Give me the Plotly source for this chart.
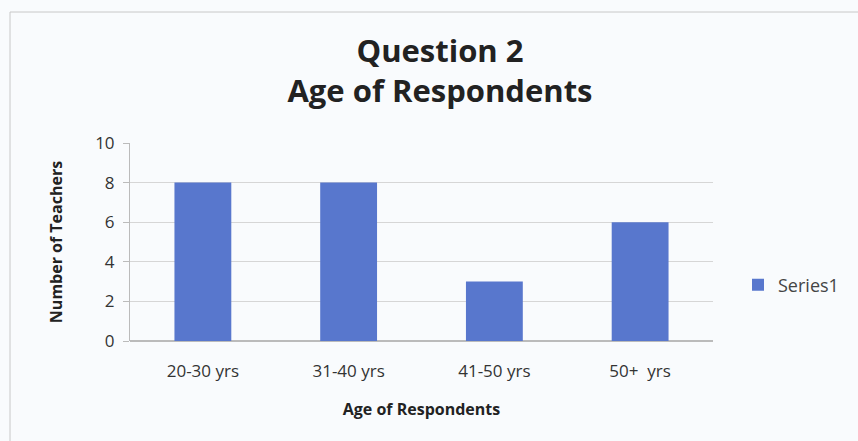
import plotly.graph_objects as go

# Survey results: number of teachers in each age band
categories = ["20-30 yrs", "31-40 yrs", "41-50 yrs", "50+  yrs"]
teachers = [8, 8, 3, 6]
y_ticks = [0, 2, 4, 6, 8, 10]

W, H = 858, 441
M_L, M_R, M_T, M_B = 130, 145, 143, 100
plot_w = W - M_L - M_R
plot_h = H - M_T - M_B


def px_x(x):
    return (x - M_L) / plot_w


def px_y(y):
    return (H - M_B - y) / plot_h


fig = go.Figure(
    go.Bar(
        x=categories,
        y=teachers,
        name="Series1",
        marker=dict(color="#5877CD", line=dict(width=0)),
        width=0.39,
        showlegend=True,
    )
)

font_main = "'Open Sans', sans-serif"

fig.update_layout(
    width=W,
    height=H,
    margin=dict(l=M_L, r=M_R, t=M_T, b=M_B),
    paper_bgcolor="#F9FBFD",
    plot_bgcolor="#F9FBFD",
    font=dict(family=font_main, color="#333333"),
    title=dict(
        text="<b>Question 2<br>Age of Respondents</b>",
        x=440 / W,
        xanchor="center",
        y=0.86,
        yanchor="top",
        font=dict(size=31, color="#222222", family=font_main),
    ),
    legend=dict(
        x=px_x(738),
        xanchor="left",
        y=px_y(285),
        yanchor="middle",
        font=dict(size=18, color="#444444"),
        bgcolor="rgba(0,0,0,0)",
        itemwidth=30,
    ),
    bargap=0.61,
    shapes=[
        dict(
            type="rect",
            xref="paper",
            yref="paper",
            x0=px_x(10),
            x1=px_x(870),
            y0=px_y(460),
            y1=px_y(12),
            line=dict(color="#C8C8C8", width=1),
            fillcolor="rgba(0,0,0,0)",
            layer="below",
        )
    ],
)

fig.update_xaxes(
    showgrid=False,
    showline=False,
    ticks="",
    ticklabelstandoff=18,
    tickfont=dict(size=17, color="#333333"),
    title=dict(
        text="<b>Age of Respondents</b>",
        font=dict(size=16, color="#222222"),
        standoff=22,
    ),
)

fig.update_yaxes(
    range=[0, 10],
    tickvals=y_ticks,
    showgrid=True,
    gridcolor="#D6D6D6",
    gridwidth=1,
    showline=True,
    linecolor="#BBBBBB",
    ticks="outside",
    ticklen=6,
    tickcolor="#BBBBBB",
    ticklabelstandoff=5,
    tickfont=dict(size=17, color="#333333"),
    zeroline=True,
    zerolinecolor="#BBBBBB",
    title=dict(
        text="<b>Number of Teachers</b>",
        font=dict(size=16, color="#222222"),
        standoff=28,
    ),
)

fig.write_html("out.html")
